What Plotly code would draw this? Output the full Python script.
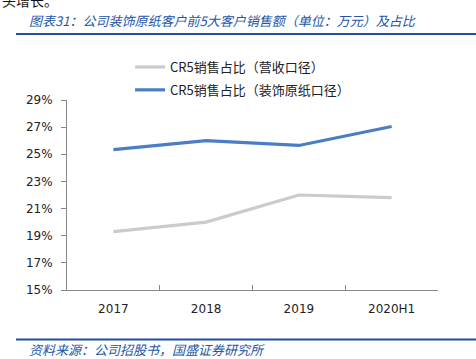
import plotly.graph_objects as go

categories = ["2017", "2018", "2019", "2020H1"]
revenue_share = [19.3, 20.0, 22.0, 21.8]
decor_share = [25.35, 26.0, 25.65, 27.05]
ytick_vals = [15, 17, 19, 21, 23, 25, 27, 29]
ytick_text = ["15%", "17%", "19%", "21%", "23%", "25%", "27%", "29%"]

W, H = 476, 359
L, R, T, B = 67, 38, 100, 69

fig = go.Figure()
fig.add_trace(go.Scatter(x=categories, y=revenue_share, mode="lines",
                         name="CR5销售占比（营收口径）", legendgroup="a",
                         line=dict(color="#CBCBCB", width=3.2)))
fig.add_trace(go.Scatter(x=categories, y=decor_share, mode="lines",
                         name="CR5销售占比（装饰原纸口径）", legendgroup="b",
                         line=dict(color="#4A7EC4", width=3.2)))

plot_w = W - L - R
plot_h = H - T - B
def px(x):
    return (x - L) / plot_w
def py(y):
    return (H - B - y) / plot_h

fig.update_layout(
    width=W, height=H,
    margin=dict(l=L, r=R, t=T, b=B, autoexpand=False),
    paper_bgcolor="white", plot_bgcolor="white",
    font=dict(family="DejaVu Sans, Noto Sans CJK SC", size=12, color="#222222"),
    showlegend=True,
    legend=dict(x=0.17, y=py(52), xanchor="left", yanchor="top",
                font=dict(family="Noto Sans CJK SC", size=13, color="#222222"),
                tracegroupgap=3, itemwidth=30, bgcolor="rgba(0,0,0,0)"),
    xaxis=dict(type="category", range=[-0.5, 3.5], showline=True,
               linecolor="#888888", linewidth=1, ticks="inside",
               tickson="boundaries", ticklen=5, tickcolor="#888888",
               showgrid=False, zeroline=False, ticklabelstandoff=8,
               tickfont=dict(family="DejaVu Sans", size=12, color="#222222")),
    yaxis=dict(range=[15, 29], tickvals=ytick_vals, ticktext=ytick_text,
               showline=True, linecolor="#888888", linewidth=1,
               ticks="outside", ticklen=5, tickcolor="#888888",
               showgrid=False, zeroline=False, ticklabelstandoff=6,
               tickfont=dict(family="DejaVu Sans", size=12, color="#222222")),
)

# Header / footer decoration
fig.add_annotation(xref="paper", yref="paper", x=px(0), y=py(0),
                   xanchor="left", yanchor="middle", showarrow=False,
                   text="头增长。", font=dict(family="Noto Sans CJK SC", size=14, color="#111111"))
fig.add_annotation(xref="paper", yref="paper", x=px(27), y=py(20), xanchor="left", yanchor="middle",
                   showarrow=False,
                   text="<i>图表31：公司装饰原纸客户前5大客户销售额（单位：万元）及占比</i>",
                   font=dict(family="Noto Sans CJK SC", size=13, color="#2356A8"))
fig.add_annotation(xref="paper", yref="paper", x=px(27), y=py(349), xanchor="left", yanchor="middle",
                   showarrow=False,
                   text="<i>资料来源：公司招股书，国盛证券研究所</i>",
                   font=dict(family="Noto Sans CJK SC", size=13, color="#2356A8"))
fig.add_shape(type="line", xref="paper", yref="paper", x0=px(16), x1=px(476), y0=py(34), y1=py(34),
              line=dict(color="#1F4FA0", width=2))
fig.add_shape(type="line", xref="paper", yref="paper", x0=px(16), x1=px(476), y0=py(339.5), y1=py(339.5),
              line=dict(color="#1F4FA0", width=2))

fig.write_html("out.html", config={"displayModeBar": False},
               post_script="document.body.style.margin='0';")
